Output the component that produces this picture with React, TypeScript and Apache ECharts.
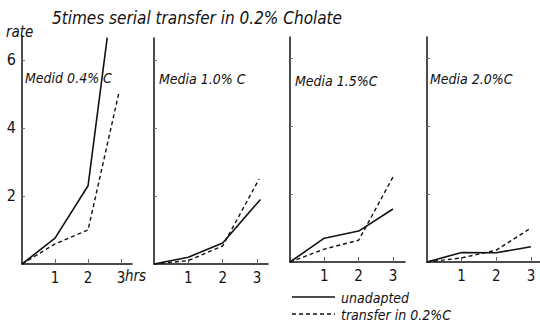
import React, { useEffect, useRef } from "react";
import * as echarts from "echarts";

const title = "5times serial transfer in 0.2% Cholate";
const yName = "rate";
const panelNames = ["Medid 0.4% C", "Media 1.0% C", "Media 1.5%C", "Media 2.0%C"];
const xTickValues = [1, 2, 3];
const yTickValues = [2, 4, 6];
const legendNames = ["unadapted", "transfer in 0.2%C"];

const unadapted: number[][][] = [
  [[0, 0], [1, 0.76], [2, 2.3], [2.58, 6.65]],
  [[0, 0], [1, 0.2], [2, 0.62], [3.1, 1.9]],
  [[0, 0], [1, 0.7], [2, 0.91], [3, 1.56]],
  [[0, 0], [1, 0.28], [2, 0.27], [3, 0.45]],
];
const transfer: number[][][] = [
  [[0, 0], [1, 0.59], [2, 1.0], [2.94, 5.06]],
  [[0, 0], [1, 0.1], [2, 0.53], [3.06, 2.5]],
  [[0, 0], [1, 0.38], [2, 0.64], [3, 2.5]],
  [[0, 0], [1, 0.12], [2, 0.35], [3, 1.0]],
];

const layout = [
  { left: 22, top: 36, width: 110, height: 228, xMax: 3.33, yMax: 6.7 },
  { left: 154, top: 38, width: 114, height: 226, xMax: 3.32, yMax: 6.65 },
  { left: 290, top: 37, width: 115, height: 225, xMax: 3.35, yMax: 6.62 },
  { left: 427, top: 37, width: 113, height: 225, xMax: 3.26, yMax: 6.62 },
];

const FONT = "'Liberation Sans Narrow', 'DejaVu Sans Condensed', 'Liberation Sans', sans-serif";
const INK = "#111";

export default function App() {
  const ref = useRef<HTMLDivElement>(null);
  useEffect(() => {
    if (!ref.current) return;
    const chart = echarts.init(ref.current, undefined, { renderer: "svg" });
    const grid = layout.map((l) => ({ left: l.left, top: l.top, width: l.width, height: l.height }));
    const xAxis = layout.map((l, i) => ({
      type: "value",
      gridIndex: i,
      min: 0,
      max: l.xMax,
      splitLine: { show: false },
      axisLine: { lineStyle: { color: INK, width: 1.5 } },
      axisTick: { show: true, inside: true, length: 5, customValues: xTickValues, lineStyle: { color: "#666", width: 1 } },
      axisLabel: {
        customValues: xTickValues,
        margin: 6,
        color: INK,
        fontSize: 15,
        fontFamily: FONT,
      },
    }));
    const yAxis = layout.map((l, i) => ({
      type: "value",
      gridIndex: i,
      min: 0,
      max: l.yMax,
      splitLine: { show: false },
      axisLine: { lineStyle: { color: INK, width: 1.5 } },
      axisTick: { show: true, inside: true, length: 3, customValues: yTickValues, lineStyle: { color: "#777", width: 1 } },
      axisLabel: {
        show: i === 0,
        customValues: yTickValues,
        margin: 6,
        color: INK,
        fontSize: 16,
        fontFamily: FONT,
      },
    }));
    const series: any[] = [];
    layout.forEach((_, i) => {
      series.push({
        type: "line",
        name: legendNames[0],
        xAxisIndex: i,
        yAxisIndex: i,
        data: unadapted[i],
        symbol: "none",
        lineStyle: { color: INK, width: 1.6 },
      });
      series.push({
        type: "line",
        name: legendNames[1],
        xAxisIndex: i,
        yAxisIndex: i,
        data: transfer[i],
        symbol: "none",
        lineStyle: { color: INK, width: 1.4, type: [4, 3] },
      });
    });
    const labelPos = [
      { x: 25, y: 79 },
      { x: 159, y: 80 },
      { x: 295, y: 82 },
      { x: 430, y: 80 },
    ];
    const italic = { fontStyle: "italic", fontFamily: FONT, fill: INK };
    const graphic: any[] = [
      { type: "text", left: 52, top: 9, style: { text: title, fontSize: 17, ...italic } },
      { type: "text", left: 6, top: 24, style: { text: yName, fontSize: 15, ...italic } },
      { type: "text", left: 125, top: 268, style: { text: "hrs", fontSize: 15, ...italic } },
      ...panelNames.map((t, i) => ({
        type: "text",
        left: labelPos[i].x,
        top: labelPos[i].y - 8,
        style: { text: t, fontSize: 14, ...italic },
      })),
      { type: "line", shape: { x1: 292, y1: 297, x2: 335, y2: 297 }, style: { stroke: INK, lineWidth: 1.6 } },
      { type: "line", shape: { x1: 292, y1: 314, x2: 335, y2: 314 }, style: { stroke: INK, lineWidth: 1.4, lineDash: [4, 3] } },
      { type: "text", left: 341, top: 290, style: { text: legendNames[0], fontSize: 14, lineHeight: 15, ...italic } },
      { type: "text", left: 341, top: 307, style: { text: legendNames[1], fontSize: 14, lineHeight: 15, ...italic } },
    ];
    chart.setOption({
      animation: false,
      backgroundColor: "#fff",
      grid,
      xAxis,
      yAxis,
      series,
      graphic,
    });
    return () => chart.dispose();
  }, []);
  return (
    <div
      ref={ref}
      style={{ position: "absolute", left: 0, top: 0, width: 540, height: 322 }}
    />
  );
}
